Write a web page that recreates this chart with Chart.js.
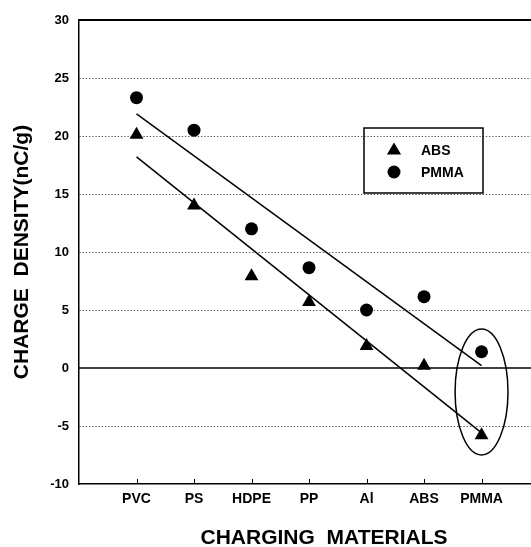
<!DOCTYPE html>
<html>
<head>
<meta charset="utf-8">
<script src="https://cdn.jsdelivr.net/npm/chart.js@4/dist/chart.umd.min.js"></script>
<style>
  html, body { margin: 0; padding: 0; background: #fff; }
  #wrap { width: 531px; height: 547px; position: relative; }
</style>
</head>
<body>
<div id="wrap"><canvas id="c"></canvas></div>
<script>
// ---- data ----
const categories = ['PVC', 'PS', 'HDPE', 'PP', 'Al', 'ABS', 'PMMA'];
const absValues  = [20.1, 14.0, 7.9, 5.7, 1.9, 0.2, -5.8];
const pmmaValues = [23.3, 20.5, 12.0, 8.65, 5.0, 6.15, 1.4];
const fitX       = [1, 7];
const absFit     = [18.2, -5.6];
const pmmaFit    = [21.9, 0.2];
const yRange     = [-10, 30];
const yStep      = 5;
const ellipseCenter = [7, -2.07];
const ellipseRadii  = [0.46, 5.43];
const seriesNames = ['ABS', 'PMMA'];
const xTitle = 'CHARGING  MATERIALS';
const yTitle = 'CHARGE  DENSITY(nC/g)';

const FONT = '"Liberation Sans", Arial, sans-serif';

const toPts = (vals) => vals.map((v, i) => ({ x: i + 1, y: v }));
const fitPts = (vals) => vals.map((v, i) => ({ x: fitX[i], y: v }));

const extras = {
  id: 'extras',
  afterDatasetsDraw(chart) {
    const { ctx, chartArea: a, scales: { x, y } } = chart;
    ctx.save();
    ctx.strokeStyle = '#000';
    ctx.lineWidth = 1.5;
    const y0 = y.getPixelForValue(0);
    ctx.beginPath(); ctx.moveTo(a.left, y0); ctx.lineTo(a.right, y0); ctx.stroke();
    ctx.lineWidth = 2;
    ctx.beginPath(); ctx.moveTo(a.left, a.top); ctx.lineTo(a.right, a.top); ctx.stroke();
    ctx.lineWidth = 1;
    categories.forEach((c, i) => {
      const px = Math.round(x.getPixelForValue(i + 1)) + 0.5;
      ctx.beginPath(); ctx.moveTo(px, a.bottom); ctx.lineTo(px, a.bottom - 5); ctx.stroke();
    });
    const cx = x.getPixelForValue(ellipseCenter[0]);
    const cy = y.getPixelForValue(ellipseCenter[1]);
    const rx = Math.abs(x.getPixelForValue(ellipseCenter[0] + ellipseRadii[0]) - cx);
    const ry = Math.abs(y.getPixelForValue(ellipseCenter[1] + ellipseRadii[1]) - cy);
    ctx.lineWidth = 1.5;
    ctx.beginPath(); ctx.ellipse(cx, cy, rx, ry, 0, 0, Math.PI * 2); ctx.stroke();
    // legend
    const bx = 364, by = 128, bw = 119, bh = 65;
    ctx.lineWidth = 1.5;
    ctx.strokeRect(bx, by, bw, bh);
    ctx.fillStyle = '#000';
    const tx = 394, ty = 150, r = 7.5;
    ctx.beginPath();
    ctx.moveTo(tx, ty - r);
    ctx.lineTo(tx + r * 0.95, ty + r * 0.6);
    ctx.lineTo(tx - r * 0.95, ty + r * 0.6);
    ctx.closePath(); ctx.fill();
    ctx.beginPath(); ctx.arc(394, 172, 6.5, 0, Math.PI * 2); ctx.fill();
    ctx.font = 'bold 14px ' + FONT;
    ctx.textBaseline = 'middle';
    ctx.textAlign = 'left';
    ctx.fillText(seriesNames[0], 421, 151);
    ctx.fillText(seriesNames[1], 421, 173);
    // x axis title
    ctx.font = 'bold 21px ' + FONT;
    ctx.textAlign = 'center';
    ctx.fillText(xTitle, 324, 538);
    ctx.restore();
  }
};

new Chart(document.getElementById('c'), {
  type: 'scatter',
  data: {
    datasets: [
      { type: 'line', label: 'ABS fit', data: fitPts(absFit), borderColor: '#000', borderWidth: 1.5, pointRadius: 0, fill: false, order: 3 },
      { type: 'line', label: 'PMMA fit', data: fitPts(pmmaFit), borderColor: '#000', borderWidth: 1.5, pointRadius: 0, fill: false, order: 3 },
      { label: seriesNames[0], data: toPts(absValues), pointStyle: 'triangle', pointRadius: 8, backgroundColor: '#000', borderColor: '#000', borderWidth: 0, order: 1 },
      { label: seriesNames[1], data: toPts(pmmaValues), pointStyle: 'circle', pointRadius: 6.5, backgroundColor: '#000', borderColor: '#000', borderWidth: 0, order: 1 }
    ]
  },
  options: {
    responsive: true,
    maintainAspectRatio: false,
    animation: false,
    layout: { autoPadding: false, padding: { top: 20, right: 0, bottom: 0, left: 0 } },
    plugins: { legend: { display: false }, tooltip: { enabled: false } },
    scales: {
      x: {
        type: 'linear',
        min: 0,
        max: 7.86,
        grid: { display: false, drawTicks: false },
        border: { display: true, color: '#000', width: 1.5 },
        ticks: {
          stepSize: 1,
          includeBounds: true,
          autoSkip: false,
          maxRotation: 0,
          padding: 7,
          color: '#000',
          font: { family: FONT, size: 14, weight: 'bold' },
          callback: (v) => (Number.isInteger(v) && v >= 1 && v <= categories.length) ? categories[v - 1] : ''
        },
        title: { display: false },
        afterFit: (s) => { s.height = 63; s.paddingRight = 0; }
      },
      y: {
        min: yRange[0],
        max: yRange[1],
        grid: {
          display: true,
          drawTicks: false,
          lineWidth: 1,
          color: (c) => (c.tick && (c.tick.value === 0 || c.tick.value === yRange[0] || c.tick.value === yRange[1])) ? 'rgba(0,0,0,0)' : '#444'
        },
        border: { display: true, color: '#000', width: 1.5, dash: [1.2, 2] },
        ticks: {
          stepSize: yStep,
          padding: 10,
          color: '#000',
          font: { family: FONT, size: 13, weight: 'bold' }
        },
        title: {
          display: true,
          text: yTitle,
          color: '#000',
          font: { family: FONT, size: 21, weight: 'bold', lineHeight: 1.2 },
          padding: { top: 10, bottom: 0 }
        },
        afterFit: (s) => { s.width = 79; }
      }
    }
  },
  plugins: [extras]
});
</script>
</body>
</html>
